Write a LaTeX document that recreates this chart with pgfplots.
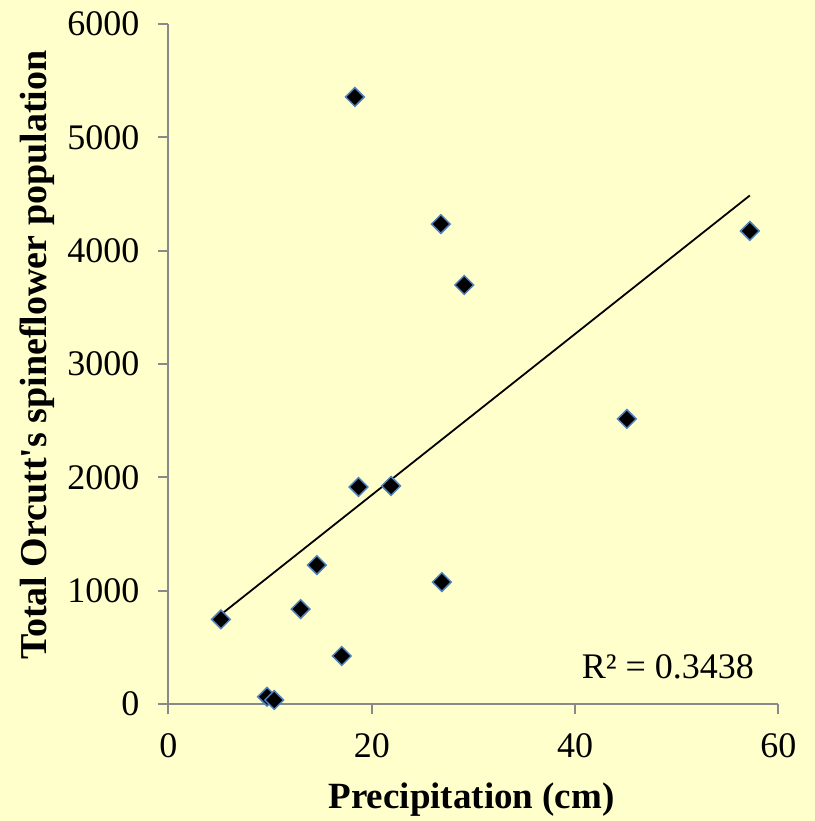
\documentclass[border=0pt]{standalone}
\usepackage{fontspec}
\setmainfont{Liberation Serif}
\usepackage{pgfplots}
\usepackage{pgfplotstable}
\pgfplotsset{compat=1.18}
\usetikzlibrary{backgrounds}
\definecolor{bgyellow}{RGB}{255,255,204}
\definecolor{axgray}{RGB}{137,137,137}
\definecolor{mkblue}{RGB}{79,129,189}

\pgfplotstableread{
x y
18.34 5356
26.8 4235
29.1 3697
57.2 4174
45.1 2515
21.9 1924
18.7 1915
14.6 1226
26.9 1076
13.0 838
5.16 747
17.05 424
9.7 64
10.4 35
}\spineflower

\begin{document}
\begin{tikzpicture}
\begin{axis}[
  at={(0,0)}, anchor=south west,
  scale only axis,
  width=304.9pt, height=340pt,
  xmin=0, xmax=60, ymin=0, ymax=6000,
  xtick={0,20,40,60}, ytick={0,1000,...,6000},
  axis x line=bottom, axis y line=left,
  axis line style={axgray, line width=1pt, -},
  tick style={axgray, line width=1pt},
  tick align=outside, major tick length=5pt,
  /pgf/number format/assume math mode=true,
  /pgf/number format/1000 sep={},
  ticklabel style={font=\fontsize{18}{21}\selectfont},
  xticklabel style={yshift=-6pt},
  yticklabel style={xshift=-6pt},
  xlabel={Precipitation (cm)},
  ylabel={Total Orcutt\textquotesingle s spineflower population},
  xlabel style={font=\fontsize{18.5}{21}\selectfont\bfseries, at={(axis description cs:0.497,-0.141)}, anchor=center},
  ylabel style={font=\fontsize{19}{21}\selectfont\bfseries, at={(axis description cs:-0.216,0.513)}, anchor=center},
  clip=false,
]
  \addplot[only marks, mark=square*, mark size=3.3pt,
    mark options={rotate=45, fill=black, draw=mkblue, line width=0.75pt}] table[x=x, y=y] {\spineflower};
  \addplot[black, line width=0.9pt, no marks]
    table[x=x, y={create col/linear regression={y=y}}] {\spineflower};
  \node[anchor=east, font=\fontsize{18}{21}\selectfont] at (axis cs:58.3,330) {R² = 0.3438};
\end{axis}
\begin{scope}[on background layer]
  \fill[bgyellow] (-84.25pt,-58.5pt) rectangle (323.25pt,352pt);
\end{scope}
\pgfresetboundingbox
\useasboundingbox (-84.25pt,-58.5pt) rectangle (323.25pt,352pt);
\end{tikzpicture}
\end{document}
